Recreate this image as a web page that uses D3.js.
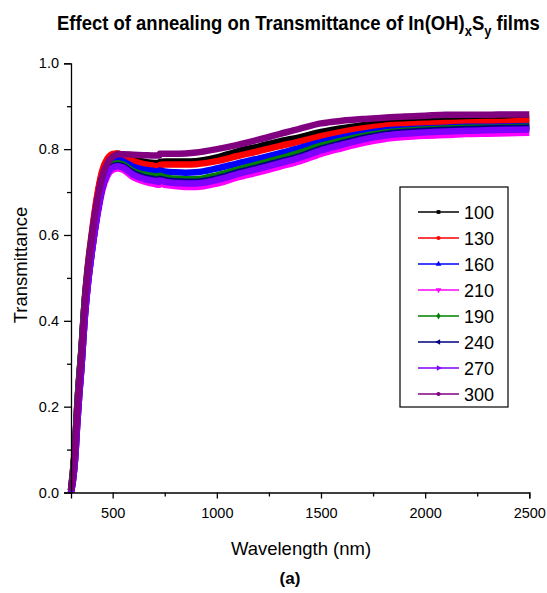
<!DOCTYPE html>
<html><head><meta charset="utf-8">
<script src="https://cdn.jsdelivr.net/npm/d3@7/dist/d3.min.js"></script>
<style>body{margin:0;background:#fff;} svg{display:block;}</style>
</head><body>
<svg id="c" width="547" height="593"></svg>
<script>
const wavelengths = [300,310,320,330,340,350,365,380,400,425,450,475,500,525,550,600,650,700,724,726,750,800,850,900,1000,1100,1200,1300,1400,1500,1600,1700,1800,1900,2000,2100,2200,2300,2400,2500];
const seriesNames = ["100","130","160","210","190","240","270","300"];
const seriesColors = ["#000000","#ff0000","#0000ff","#ff00ff","#008000","#000080","#8000ff","#800080"];
const t100 = [0.005,0.05,0.11,0.20,0.27,0.33,0.44,0.52,0.60,0.685,0.745,0.775,0.787,0.789,0.786,0.776,0.771,0.768,0.767,0.770,0.771,0.771,0.771,0.772,0.781,0.795,0.806,0.818,0.828,0.840,0.849,0.856,0.862,0.864,0.866,0.868,0.868,0.869,0.870,0.871];
const t130 = [0.006,0.055,0.115,0.205,0.275,0.335,0.445,0.525,0.605,0.69,0.75,0.778,0.789,0.790,0.785,0.772,0.765,0.761,0.759,0.763,0.764,0.764,0.764,0.765,0.772,0.784,0.795,0.807,0.818,0.830,0.840,0.848,0.854,0.857,0.859,0.861,0.862,0.863,0.864,0.866];
const t160 = [0.005,0.05,0.11,0.20,0.27,0.33,0.44,0.515,0.595,0.675,0.735,0.762,0.773,0.776,0.772,0.759,0.752,0.749,0.747,0.750,0.748,0.746,0.745,0.746,0.755,0.767,0.778,0.790,0.803,0.816,0.827,0.836,0.843,0.846,0.848,0.850,0.852,0.852,0.853,0.854];
const t210 = [0.0,0.03,0.08,0.16,0.23,0.29,0.40,0.48,0.56,0.64,0.703,0.738,0.752,0.755,0.752,0.734,0.725,0.719,0.717,0.720,0.717,0.714,0.712,0.712,0.720,0.734,0.746,0.759,0.772,0.789,0.802,0.814,0.823,0.828,0.831,0.833,0.835,0.836,0.837,0.838];
const t190 = [0.005,0.05,0.11,0.20,0.27,0.33,0.44,0.51,0.59,0.668,0.727,0.753,0.764,0.767,0.764,0.748,0.741,0.737,0.735,0.738,0.734,0.731,0.730,0.730,0.739,0.752,0.765,0.778,0.792,0.808,0.820,0.830,0.838,0.843,0.846,0.848,0.850,0.850,0.851,0.852];
const t240 = [0.0,0.03,0.08,0.16,0.23,0.29,0.40,0.48,0.56,0.645,0.71,0.745,0.760,0.763,0.760,0.744,0.735,0.730,0.728,0.731,0.728,0.725,0.724,0.724,0.732,0.746,0.758,0.771,0.784,0.801,0.814,0.826,0.835,0.840,0.843,0.845,0.847,0.848,0.849,0.850];
const t270 = [0.0,0.03,0.08,0.16,0.23,0.29,0.40,0.48,0.56,0.645,0.71,0.745,0.757,0.760,0.757,0.740,0.731,0.726,0.724,0.727,0.724,0.721,0.720,0.720,0.728,0.742,0.754,0.767,0.780,0.797,0.810,0.822,0.831,0.836,0.839,0.841,0.843,0.844,0.845,0.846];
const t300 = [0.004,0.045,0.105,0.19,0.26,0.32,0.43,0.51,0.59,0.675,0.735,0.768,0.782,0.788,0.788,0.787,0.786,0.785,0.785,0.789,0.789,0.789,0.790,0.792,0.800,0.810,0.822,0.835,0.848,0.860,0.866,0.870,0.873,0.876,0.878,0.880,0.880,0.880,0.881,0.881];
const seriesValues = [t100,t130,t160,t210,t190,t240,t270,t300];
const xTicks = [500,1000,1500,2000,2500];
const yTicks = [0.0,0.2,0.4,0.6,0.8,1.0];

const svg = d3.select("#c");
const font = "'Liberation Sans', Arial, sans-serif";
const x = d3.scaleLinear().domain([300,2500]).range([71,529.3]);
const y = d3.scaleLinear().domain([0,1]).range([492.5,63.3]);

// series
const line = d3.line().x(d=>x(d[0])).y(d=>y(d[1])).curve(d3.curveMonotoneX);
const g = svg.append("g");
seriesValues.forEach((vals,i)=>{
  const pts = wavelengths.map((w,j)=>[w,vals[j]]);
  g.append("path").attr("d",line(pts)).attr("fill","none")
   .attr("stroke",seriesColors[i]).attr("stroke-width",6.5).attr("stroke-linejoin","round");
});

// axes
const xAxis = svg.append("g").attr("transform",`translate(0,${y(0)})`)
  .call(d3.axisBottom(x).tickValues(xTicks).tickSize(6).tickPadding(9).tickFormat(d3.format("d")));
const xMinor = svg.append("g").attr("transform",`translate(0,${y(0)})`)
  .call(d3.axisBottom(x).tickValues([750,1250,1750,2250]).tickSize(4).tickFormat(""));
const yAxis = svg.append("g").attr("transform",`translate(${x(300)},0)`)
  .call(d3.axisLeft(y).tickValues(yTicks).tickSize(7).tickPadding(5).tickFormat(d3.format(".1f")));
const yMinor = svg.append("g").attr("transform",`translate(${x(300)},0)`)
  .call(d3.axisLeft(y).tickValues([0.1,0.3,0.5,0.7,0.9]).tickSize(4).tickFormat(""));
[xAxis,xMinor,yAxis,yMinor].forEach(a=>{
  a.select(".domain").attr("stroke","#000").attr("stroke-width",1.3);
  a.selectAll(".tick line").attr("stroke","#000").attr("stroke-width",1.3);
  a.selectAll(".tick text").attr("font-family",font).attr("font-size",14.5).attr("fill","#000");
});
xMinor.select(".domain").remove(); yMinor.select(".domain").remove();

// titles
svg.append("text").attr("x",301).attr("y",555).attr("text-anchor","middle")
  .attr("font-family",font).attr("font-size",18.5).text("Wavelength (nm)");
svg.append("text").attr("x",290).attr("y",584).attr("text-anchor","middle")
  .attr("font-family",font).attr("font-size",17).attr("font-weight","bold").text("(a)");
svg.append("text").attr("transform","translate(27,265) rotate(-90)").attr("text-anchor","middle")
  .attr("font-family",font).attr("font-size",18.5).text("Transmittance");
const tg = svg.append("g");
const title = tg.append("text").attr("x",0).attr("y",0)
  .attr("font-family",font).attr("font-size",20).attr("font-weight","bold");
title.append("tspan").text("Effect of annealing on Transmittance of In(OH)");
title.append("tspan").attr("dy",6).attr("font-size",14).text("x");
title.append("tspan").attr("dy",-6).text("S");
title.append("tspan").attr("dy",6).attr("font-size",14).text("y");
title.append("tspan").attr("dy",-6).text(" films");
const tw = title.node().getComputedTextLength();
const sx = 483 / tw;
tg.attr("transform",`translate(57,30) scale(${sx},1)`);

// legend
const lg = svg.append("g");
lg.append("rect").attr("x",400).attr("y",187).attr("width",108).attr("height",220)
  .attr("fill","#fff").attr("stroke","#000").attr("stroke-width",1.2);
const symbols = [d3.symbolSquare,d3.symbolCircle,d3.symbolTriangle,d3.symbolTriangle,d3.symbolDiamond,d3.symbolTriangle,d3.symbolTriangle,d3.symbolCircle];
const rots = [0,0,0,180,0,-90,90,0];
seriesNames.forEach((n,i)=>{
  const yy = 212 + i*26;
  lg.append("line").attr("x1",418).attr("x2",459).attr("y1",yy).attr("y2",yy)
    .attr("stroke",seriesColors[i]).attr("stroke-width",1.5);
  lg.append("path").attr("d",d3.symbol(symbols[i],14)())
    .attr("transform",`translate(438.5,${yy}) rotate(${rots[i]})`).attr("fill",seriesColors[i]);
  lg.append("text").attr("x",464).attr("y",yy+6.5).attr("font-family",font).attr("font-size",18).text(n);
});
</script>
</body></html>
